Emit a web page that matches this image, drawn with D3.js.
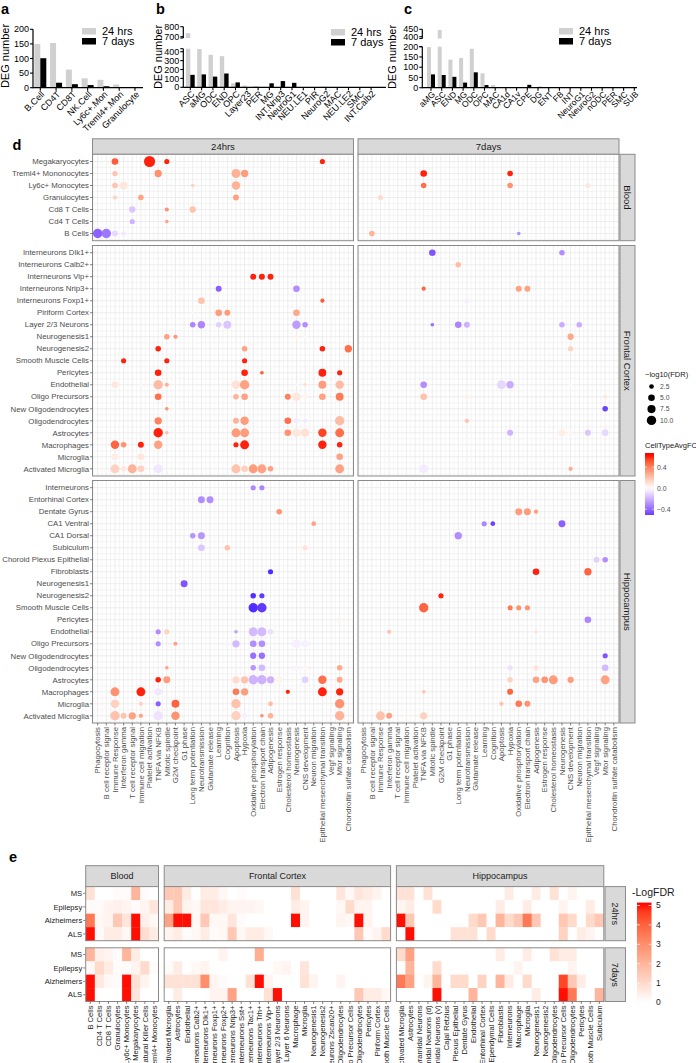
<!DOCTYPE html>
<html><head><meta charset="utf-8">
<script src="https://cdn.jsdelivr.net/npm/d3@7"></script>
<style>body{margin:0;background:#fff} svg{display:block;font-family:"Liberation Sans",Arial,Helvetica,sans-serif}</style>
</head><body><script>
// ---------------- DATA ----------------
// Panel a
const aCats = ["B.Cell","CD4T","CD8T","NK.Cell","Ly6c+.Mon","Treml4+.Mon","Granulocyte"];
const a24 = [150,153,62,32,27,11,3];
const a7d = [101,17,12,9,5,1,0];
const aTicks = [0,50,100,150,200];
// Panel b
const bCats = ["ASC","aMG","ODC","END","OPC","Layer23","PER","MG","INT.Nrip3","NeuroG1","NEU.LE1","PIR","NeuroG2","MAC","NEU.LE2","SMC","INT.Calb2"];
const b24 = [735,430,365,350,45,20,15,0,0,0,0,0,8,0,0,0,5];
const b7d = [140,145,120,155,55,0,0,45,70,50,0,0,0,0,0,0,0];
const bTicksLow = [0,100,200,300,400];
const bTicksUp = [700,800];
// Panel c
const cCats = ["aMG","ASC","END","MG","ODC","OPC","MAC","CA1d","CA1v","CPE","DG","ENT","FB","INT","NeuroG1","NeuroG2","nODC","PER","SMC","SUB"];
const c24 = [198,445,137,145,190,70,13,0,0,0,0,0,0,0,0,0,0,0,2,0];
const c7d = [65,62,53,25,75,13,0,0,0,14,4,0,0,0,0,0,0,0,0,0];
const cTicksLow = [0,50,100,150,200];
const cTicksUp = [400,450];

// Panel d
const pathways = ["Phagocytosis","B cell receptor signal","Immune Response","Interferon gamma","T cell receptor signal","Immune cell migration","Platelet activation","TNFA via NFKB","Mitotic spindle","G2M checkpoint","G1 phase","Long term potentiation","Neurotransmission","Glutamate release","Learning","Cognition","Apoptosis","Hypoxia","Oxidative phosphorylation","Electron transport chain","Adipogenesis","Estrogen response","Cholesterol homeostasis","Neurogenesis","CNS development","Neuron migration","Epithelial mesenchymal transition","Vegf signaling","Mtor signaling","Chondroitin sulfate catabolism"];
const timepoints = ["24hrs","7days"];
const regions = ["Blood","Frontal Cortex","Hippocampus"];
const bloodCells = ["Megakaryocytes","Treml4+ Mononocytes","Ly6c+ Monocytes","Granulocytes","Cd8 T Cells","Cd4 T Cells","B Cells"];
const fcCells = ["Interneurons Dlk1+","Interneurons Calb2+","Interneurons Vip+","Interneurons Nrip3+","Interneurons Foxp1+","Piriform Cortex","Layer 2/3 Neurons","Neurogenesis1","Neurogenesis2","Smooth Muscle Cells","Pericytes","Endothelial","Oligo Precursors","New Oligodendrocytes","Oligodendrocytes","Astrocytes","Macrophages","Microglia","Activated Microglia"];
const hipCells = ["Interneurons","Entorhinal Cortex","Dentate Gyrus","CA1 Ventral","CA1 Dorsal","Subiculum","Choroid Plexus Epithelial","Fibroblasts","Neurogenesis1","Neurogenesis2","Smooth Muscle Cells","Pericytes","Endothelial","Oligo Precursors","New Oligodendrocytes","Oligodendrocytes","Astrocytes","Macrophages","Microglia","Activated Microglia"];
// each entry: [pathway index, -log10(FDR), CellTypeAvgFC]
const dotsBlood24 = {
 "Megakaryocytes":[[2,5,0.5],[6,14,0.6],[8,3,0.6],[26,3,0.6]],
 "Treml4+ Mononocytes":[[2,3,0.2],[7,6,0.35],[16,9,0.25],[17,6,0.32]],
 "Ly6c+ Monocytes":[[2,3.5,0.2],[3,7,0.08],[11,1.5,0.15],[16,8,0.25]],
 "Granulocytes":[[2,2,0.15],[5,3.5,0.3],[16,4,0.3]],
 "Cd8 T Cells":[[4,4.5,-0.15],[8,2,0.35],[11,4.5,0.2]],
 "Cd4 T Cells":[[4,3,-0.2],[8,1.5,0.3]],
 "B Cells":[[0,10,-0.42],[1,10,-0.36],[2,4,-0.1],[3,2.5,-0.06]]
};
const dotsBlood7 = {
 "Treml4+ Mononocytes":[[7,5,0.6],[17,3.5,0.6]],
 "Ly6c+ Monocytes":[[7,3.5,0.45],[17,3.5,0.35],[26,3,0.08]],
 "Granulocytes":[[2,3,0.12]],
 "B Cells":[[1,3.5,0.25],[3,1.5,0.05],[18,1.5,-0.3]]
};
const dotsFC24 = {
 "Interneurons Vip+":[[18,4,0.6],[19,4,0.6],[20,4,0.6]],
 "Interneurons Nrip3+":[[14,4,-0.42],[23,5,-0.3]],
 "Interneurons Foxp1+":[[12,5,0.2],[26,2,0.5]],
 "Piriform Cortex":[[11,1.5,0.04],[14,5,0.32],[15,4,0.32],[23,5,0.28]],
 "Layer 2/3 Neurons":[[11,3.5,-0.32],[12,6,-0.32],[14,3.5,-0.12],[15,7,-0.15],[23,8,-0.26],[24,3.5,-0.3]],
 "Neurogenesis1":[[8,3.5,0.3],[9,2,0.35],[23,1.5,0.05],[24,1.5,0.03]],
 "Neurogenesis2":[[7,3.5,0.6],[17,3.5,0.3],[26,3.5,0.6],[29,6,0.45]],
 "Smooth Muscle Cells":[[3,3,0.6],[8,3,0.6],[17,3,0.6]],
 "Pericytes":[[7,5,0.6],[17,5,0.6],[19,1.5,0.5],[26,7,0.6],[28,3,0.6]],
 "Endothelial":[[2,5,0.08],[5,1.5,-0.03],[7,10,0.22],[8,2,0.25],[16,8,0.1],[17,10,0.3],[23,1.5,-0.03],[24,1.5,0.1],[26,7,0.32],[28,8,0.22]],
 "Oligo Precursors":[[7,5,0.45],[16,3.5,0.25],[17,5,0.3],[22,4,0.4],[23,8,0.08],[24,3,0.04],[26,5,0.3],[28,7,0.42]],
 "New Oligodendrocytes":[[8,1.5,0.35]],
 "Oligodendrocytes":[[7,6,0.4],[16,4,0.25],[17,8,0.32],[22,5,0.45],[23,3.5,-0.05],[24,2,-0.06],[28,10,0.22]],
 "Astrocytes":[[7,10,0.6],[8,1.5,0.2],[16,9,0.32],[17,9,0.32],[22,5,0.35],[23,8,0.08],[24,8,0.1],[26,8,0.55],[28,9,0.45]],
 "Macrophages":[[2,8,0.48],[3,3.5,0.35],[5,4,0.6],[7,8,0.3],[16,3,0.6],[17,9,0.6],[26,8,0.6],[28,3.5,0.6]],
 "Microglia":[[2,5,0.06],[5,5,0.08],[28,5,0.3]],
 "Activated Microglia":[[2,9,0.15],[3,3.5,0.08],[4,9,0.25],[5,5,0.15],[7,9,-0.06],[16,9,0.2],[17,5,0.15],[18,9,0.32],[19,9,0.3],[20,3.5,0.3],[28,9,0.3]]
};
const dotsFC7 = {
 "Interneurons Dlk1+":[[8,5,-0.45],[23,3.5,-0.3]],
 "Interneurons Calb2+":[[11,3.5,0.22]],
 "Interneurons Nrip3+":[[7,2,0.48],[18,4,0.3],[19,4,0.3]],
 "Interneurons Foxp1+":[[12,3,-0.04],[23,1.5,0.02]],
 "Layer 2/3 Neurons":[[8,1.5,-0.38],[11,5,-0.32],[12,4,-0.2],[23,3.5,-0.22],[25,3.5,-0.22]],
 "Neurogenesis1":[[24,4.5,0.28]],
 "Neurogenesis2":[[24,3,0.15]],
 "Endothelial":[[7,5,-0.3],[16,9,-0.1],[17,6,-0.22],[24,1.5,0.02]],
 "Oligo Precursors":[[7,5,0.2],[12,2.5,0.05],[28,1.5,0.1]],
 "New Oligodendrocytes":[[28,3.5,-0.5]],
 "Oligodendrocytes":[[12,2,0.2]],
 "Astrocytes":[[17,4,-0.2],[23,5,0.06],[24,3,0.03],[26,4,-0.15],[28,5,-0.1]],
 "Activated Microglia":[[7,9,-0.05],[24,2,0.28]]
};
const dotsHip24 = {
 "Interneurons":[[18,3,-0.32],[19,3,-0.32]],
 "Entorhinal Cortex":[[12,5.5,-0.3],[13,5.5,-0.3]],
 "Dentate Gyrus":[[21,3.5,0.35]],
 "CA1 Ventral":[[25,2.5,0.3]],
 "CA1 Dorsal":[[11,3.5,-0.28],[12,5.5,-0.28]],
 "Subiculum":[[12,5,-0.15],[15,3.5,0.2],[24,3,0.1]],
 "Fibroblasts":[[20,3,-0.55]],
 "Neurogenesis1":[[10,5.5,-0.45]],
 "Neurogenesis2":[[18,3.5,-0.55],[19,3,-0.52]],
 "Smooth Muscle Cells":[[18,10,-0.55],[19,10,-0.52]],
 "Pericytes":[[28,2,0.04]],
 "Endothelial":[[7,3,-0.3],[8,3,0.15],[16,1.5,-0.25],[18,9,-0.18],[19,9,-0.18],[20,3.5,-0.08]],
 "Oligo Precursors":[[7,3,-0.3],[9,2,0.3],[15,2.5,-0.03],[16,6,-0.18],[18,5,-0.3],[19,5,-0.3],[23,8,-0.04],[24,5,-0.04]],
 "New Oligodendrocytes":[[18,4.5,-0.38],[19,4.5,-0.38]],
 "Oligodendrocytes":[[8,1.5,0.3],[18,3.5,-0.28],[19,5,-0.18],[23,3,-0.03],[24,2,0.03],[28,3.5,0.28]],
 "Astrocytes":[[7,3.5,0.6],[8,5.5,0.32],[16,6,0.12],[17,6,0.2],[18,10,-0.2],[19,10,-0.2],[20,6,-0.2],[21,5,0.04],[24,5,-0.12],[26,8,0.45],[28,4,0.28]],
 "Macrophages":[[2,9,0.35],[5,9,0.6],[7,6,-0.06],[16,5,0.42],[17,6,0.32],[22,2,0.6],[26,9,0.6],[28,6,0.6]],
 "Microglia":[[2,8,0.15],[5,2,0.15],[7,3,-0.42],[9,7,0.48],[16,10,0.2],[20,2.5,0.22],[28,10,0.35]],
 "Activated Microglia":[[2,10,0.2],[3,4,0.2],[4,6,0.3],[5,2,0.3],[7,10,-0.07],[9,8,0.35],[16,10,0.15],[17,3.5,-0.04],[19,1.5,0.35],[20,3.5,0.25],[28,10,0.25]]
};
const dotsHip7 = {
 "Dentate Gyrus":[[18,5.5,0.32],[19,5.5,0.32],[20,2,0.32]],
 "CA1 Ventral":[[14,3,-0.32],[15,2.5,-0.5],[23,5.5,-0.42]],
 "CA1 Dorsal":[[11,6,-0.3]],
 "Choroid Plexus Epithelial":[[27,4,-0.12],[28,3.5,-0.3]],
 "Fibroblasts":[[20,5,0.6],[26,6,0.48]],
 "Neurogenesis2":[[9,3,0.6]],
 "Smooth Muscle Cells":[[7,10,0.48],[17,3,0.42],[18,3,0.35],[19,3,0.35]],
 "Pericytes":[[26,5,-0.32]],
 "Endothelial":[[3,2,0.2],[20,1.5,0.1]],
 "New Oligodendrocytes":[[28,3,-0.45]],
 "Oligodendrocytes":[[17,3,-0.08],[20,3,0.1],[28,5,-0.18]],
 "Astrocytes":[[17,3.5,0.15],[20,5,0.3],[21,5,0.35],[22,9,0.32],[24,4.5,0.32],[28,9,0.3]],
 "Macrophages":[[7,1.5,0.2],[17,4,0.48]],
 "Microglia":[[16,2,0.2],[18,5,0.42],[19,4,0.35]],
 "Activated Microglia":[[2,9,0.2],[3,4,0.3],[5,1.5,0.05],[7,6,0.15]]
};
const sizeBreaks = [2.5,5.0,7.5,10.0];
const fcBreaks = [0.4,0.0,-0.4];

// Panel e
const diseases = ["MS","Epilepsy","Alzheimers","ALS"];
const eBloodCells = ["B Cells","CD4 T Cells","CD8 T Cells","Granulocytes","Ly6c+ Monocytes","Megakaryocytes","Natural Killer Cells","Treml4+ Monocytes"];
const eFCCells = ["Activated Microglia","Astrocytes","Endothelial","Interneurons Calb2+","Interneurons Dlk1+","Interneurons Foxp1+","Interneurons Foxp2+","Interneurons Nrip3+","Interneurons Sst+","Interneurons Tac1+","Interneurons Trh+","Interneurons Vip+","Layer 2/3 Neurons","Layer 6 Neurons","Macrophage","Microglia","Neurogenesis1","Neurogenesis2","Neurons Zscan20+","New Oligodendrocytes","Oligo Precursor Cells","Oligodendrocytes","Pericytes","Piriform Cortex","Smooth Muscle Cells"];
const eHipCells = ["Activated Microglia","Astrocytes","CA 2/3 Pyramidal Neurons","CA1 Pyramidal Neurons (d)","CA1 Pyramidal Neurons (v)","Cajal Retzius","Choroid Plexus Epithelial","Dentate Gyrus","Endothelial","Entorhinal Cortex","Ependymal Cells","Fibroblasts","Interneurons","Macrophage","Microglia","Neurogenesis1","Neurogenesis2","New Oligodendrocytes","Oligo Precursor Cells","Oligodendrocytes","Pericytes","Smooth Muscle Cells","Subiculum"];
// rows: MS, Epilepsy, Alzheimers, ALS ; values -LogFDR
const eBlood24 = [[0.8,0,0,0.1,0.1,2,0.1,0],[0.1,0.1,0.3,0.4,0.3,0.1,0.3,0.7],[3.5,0.2,0.3,1.5,0.7,5.1,0.4,0.2],[5.1,0.1,0.5,0.5,0.2,5.1,0.9,0.5]];
const eBlood7 = [[2,0.4,0.3,0.1,2,0.5,0,0],[0.2,1,0.5,0.1,0.1,0.3,1,0.1],[5.1,0.6,0.2,0.1,5.1,0.8,0.3,0],[5.1,0,0,0,5.1,0.7,0,0]];
const eFC24 = [
 [1.5,1.5,0.5,0,0.5,0.5,0.2,0,0.1,0,0,0,0,0,0.8,0,0,0,0,0.7,0.2,0.7,0.5,0.3,0],
 [0.5,1.5,0.3,0.2,0.7,0.7,0.5,0.3,0.3,0.3,0.2,0,0,0,0.5,0.3,0,0,0,0.2,1,0.3,0.3,0,0],
 [2.5,5.1,5.1,0.2,1.5,0.2,0.2,0.7,0.1,0,0,0,0,0,5.1,0.3,0,0,0,0.3,0.2,5.1,0.3,0,0],
 [0.3,0.5,0.1,0.2,0.5,0.1,0.2,1.5,0.2,0.5,0.5,0.2,0,0,0,0,0,0,0,0,0,1.5,0.1,0.3,1]];
const eFC7 = [
 [0,0,0,0,0,0,0.3,0,0,0,2.2,0,0,0,0,0,0,0,0,0,0,0,0,0,0],
 [0.1,0.5,0,0.2,0.3,0,0,0,0,0,0,0,0.2,0.3,0,0.7,0,0,0,0,0,0,0,0,0],
 [0.8,0.8,0.8,0.8,3,0.3,0.1,0,0,0.8,5.1,0.3,0,0,0,0.8,0.3,0,0,0.3,0,0,0,0,0],
 [0,0.5,0,0,0,0.3,0.3,2.5,0,0,0,0.8,5.1,0,0,0,0,0,0,0,0,1.5,0.5,0.5,0.2]];
const eHip24 = [
 [0.8,0.8,0,0.8,0,0,0,0,0,0,0,0,0.5,0,0,0.5,0,0.8,0,0.3,0,0,0],
 [0.3,0.5,0,0,1,0,0,0,0,0,0,0.5,0,0,0.5,0,0,0,0.3,0,0,0.5,0],
 [5.1,1.5,0,0,0,0,0,0,1,1.5,0,2,1,1.5,3.5,1.5,0,0,1.5,1,0,1,1.5],
 [0,5.1,0,0,0,0,0.8,0.8,0.8,0,1,0,0,0,0,0,0,0,1.2,0,0.5,0.3,0]];
const eHip7 = [
 [1,2.5,0,0,0,0,0,0,0,0,0,0.5,0,0,0.5,0,0,0.8,0.5,0.5,0,0,0],
 [0,2,0,0,1,0,0,0,0,0,0,0,0,0.3,0,0,0,0,0,0.3,0,0,0],
 [3.5,2.5,0,0.3,2,0,1,1,0,1.2,0,2,0.5,0,1,0,0,0,4.5,1.5,0.5,0,0],
 [0,0,0,0,5.1,0,0,0,2,0,0,0,0,0,0,0.5,0,0,5.1,3.5,0,0,2]];
const eBreaks = [0,1,2,3,4,5];

// ---------------- DRAW ----------------
const svg = d3.select("body").append("svg").attr("width",696).attr("height",1063);
const TXT = "#4d4d4d";

function plabel(t,x,y){svg.append("text").attr("x",x).attr("y",y).attr("font-size",14.5).attr("font-weight","bold").text(t);}
plabel("a",1,14); plabel("b",156,13.5); plabel("c",404,13.5); plabel("d",12.5,150); plabel("e",9,862);

function barChart(cfg){
  const g = svg.append("g");
  const yL = d3.scaleLinear().domain(cfg.lowDom).range(cfg.lowRange);
  const yU = cfg.upDom ? d3.scaleLinear().domain(cfg.upDom).range(cfg.upRange) : null;
  const lowTopVal = yL.invert(cfg.lowTop);
  const cx = d3.scaleLinear().domain([0,1]).range([cfg.c0, cfg.c0+cfg.pitch]);
  const drawBar = (v,x)=>{
    if (v<=0) return;
    if (!yU || v<=lowTopVal){
      g.append("rect").attr("x",x).attr("width",cfg.bw).attr("y",yL(v)).attr("height",yL(0)-yL(v)).attr("fill",cfg.col);
    } else {
      g.append("rect").attr("x",x).attr("width",cfg.bw).attr("y",cfg.lowTop).attr("height",yL(0)-cfg.lowTop).attr("fill",cfg.col);
      g.append("rect").attr("x",x).attr("width",cfg.bw).attr("y",yU(v)).attr("height",cfg.upBottom-yU(v)).attr("fill",cfg.col);
    }
  };
  cfg.cats.forEach((c,i)=>{
    cfg.col="#d0d0d0"; drawBar(cfg.v24[i], cx(i)-cfg.bw);
    cfg.col="#000"; drawBar(cfg.v7[i], cx(i));
  });
  const ax = cfg.axisX, y0 = yL(0);
  g.append("line").attr("x1",ax).attr("x2",ax).attr("y1",y0+0.5).attr("y2",cfg.lowTop).attr("stroke","#000").attr("stroke-width",1.2);
  cfg.lowTicks.forEach(t=>{
    g.append("line").attr("x1",ax-3).attr("x2",ax).attr("y1",yL(t)).attr("y2",yL(t)).attr("stroke","#000").attr("stroke-width",1.1);
    g.append("text").attr("x",ax-4).attr("y",yL(t)).attr("dy","0.35em").attr("text-anchor","end").attr("font-size",9).text(t);
  });
  if (yU){
    g.append("line").attr("x1",ax-3).attr("x2",ax).attr("y1",cfg.lowTop).attr("y2",cfg.lowTop).attr("stroke","#000").attr("stroke-width",1.1);
    g.append("line").attr("x1",ax).attr("x2",ax).attr("y1",cfg.upBottom).attr("y2",yU(cfg.upTicks[cfg.upTicks.length-1])).attr("stroke","#000").attr("stroke-width",1.2);
    g.append("line").attr("x1",ax-3).attr("x2",ax).attr("y1",cfg.upBottom).attr("y2",cfg.upBottom).attr("stroke","#000").attr("stroke-width",1.1);
    cfg.upTicks.forEach(t=>{
      g.append("line").attr("x1",ax-3).attr("x2",ax).attr("y1",yU(t)).attr("y2",yU(t)).attr("stroke","#000").attr("stroke-width",1.1);
      g.append("text").attr("x",ax-4).attr("y",yU(t)).attr("dy","0.35em").attr("text-anchor","end").attr("font-size",9).text(t);
    });
  }
  g.append("line").attr("x1",ax).attr("x2",cfg.xEnd).attr("y1",y0).attr("y2",y0).attr("stroke","#000").attr("stroke-width",1.2);
  cfg.cats.forEach((c,i)=>{
    const x = cx(i);
    g.append("line").attr("x1",x).attr("x2",x).attr("y1",y0).attr("y2",y0+3).attr("stroke","#000").attr("stroke-width",1.1);
    g.append("text").attr("transform",`translate(${x+2.5},${y0+5}) rotate(-45)`).attr("text-anchor","end").attr("dy","0.35em").attr("font-size",cfg.xfs).text(c);
  });
  g.append("text").attr("transform",`translate(${cfg.ylabX},${cfg.ylabY}) rotate(-90)`).attr("text-anchor","middle").attr("font-size",11).text("DEG number");
  const L = cfg.leg;
  g.append("rect").attr("x",L[0]).attr("y",L[1]).attr("width",14).attr("height",6.5).attr("fill","#d0d0d0");
  g.append("text").attr("x",L[0]+20).attr("y",L[1]+3.3).attr("dy","0.35em").attr("font-size",11).text("24 hrs");
  g.append("rect").attr("x",L[0]).attr("y",L[1]+10).attr("width",14).attr("height",6.5).attr("fill","#000");
  g.append("text").attr("x",L[0]+20).attr("y",L[1]+13.3).attr("dy","0.35em").attr("font-size",11).text("7 days");
}
barChart({cats:aCats,v24:a24,v7:a7d,axisX:33,c0:40.3,pitch:15.78,bw:6,lowDom:[0,200],lowRange:[87.7,29.3],lowTop:29.3,lowTicks:aTicks,xEnd:143,xfs:9,ylabX:8.5,ylabY:56,leg:[82,28]});
barChart({cats:bCats,v24:b24,v7:b7d,axisX:183.3,c0:190.3,pitch:11.3,bw:4.4,lowDom:[0,400],lowRange:[87.3,51.7],lowTop:48.7,lowTicks:bTicksLow,upDom:[700,800],upRange:[36.7,26.7],upBottom:38,upTicks:bTicksUp,xEnd:386,xfs:9,ylabX:162,ylabY:57,leg:[331,29]});
barChart({cats:cCats,v24:c24,v7:c7d,axisX:422.3,c0:431,pitch:10.7,bw:4,lowDom:[0,200],lowRange:[87.7,46.7],lowTop:46.7,lowTicks:cTicksLow,upDom:[400,450],upRange:[36.7,29.3],upBottom:38.5,upTicks:cTicksUp,xEnd:637,xfs:8.5,ylabX:396,ylabY:57,leg:[559,28]});

// ---- Panel d ----
const dX = {"24hrs":[92.5,353.5],"7days":[358,619]};
const dY = {"Blood":[154.3,240.7],"Frontal Cortex":[245.5,476],"Hippocampus":[480.5,723]};
const dCells = {"Blood":bloodCells,"Frontal Cortex":fcCells,"Hippocampus":hipCells};
const dDots = {"Blood":{"24hrs":dotsBlood24,"7days":dotsBlood7},"Frontal Cortex":{"24hrs":dotsFC24,"7days":dotsFC7},"Hippocampus":{"24hrs":dotsHip24,"7days":dotsHip7}};
const rScale = d3.scaleSqrt().domain([0,10]).range([0,4.7]);
const fcColor = d3.scaleLinear().domain([-0.62,0,0.62]).range(["#0000ff","#ffffff","#ff0000"]).interpolate(d3.interpolateLab).clamp(true);
const BORDER = "#8a8a8a", STRIP="#d9d9d9", GRID="#ebebeb";
const gd = svg.append("g");
timepoints.forEach(tp=>{
  const xs = d3.scalePoint().domain(pathways).range(dX[tp]).padding(0.6);
  const step = xs.step();
  gd.append("rect").attr("x",dX[tp][0]).attr("y",138.8).attr("width",dX[tp][1]-dX[tp][0]).attr("height",15.5).attr("fill",STRIP).attr("stroke",BORDER).attr("stroke-width",1);
  gd.append("text").attr("x",(dX[tp][0]+dX[tp][1])/2).attr("y",146.6).attr("dy","0.35em").attr("text-anchor","middle").attr("font-size",9.5).attr("fill","#1a1a1a").text(tp);
  regions.forEach(rg=>{
    const ys = d3.scalePoint().domain(dCells[rg]).range(dY[rg]).padding(0.6);
    const [x0,x1]=dX[tp],[y0,y1]=dY[rg];
    const pg = gd.append("g");
    pg.append("rect").attr("x",x0).attr("y",y0).attr("width",x1-x0).attr("height",y1-y0).attr("fill","#fff");
    pathways.forEach(p=>{
      [xs(p), xs(p)+step/2].forEach((x,k)=>{ if(x<x1) pg.append("line").attr("x1",x).attr("x2",x).attr("y1",y0).attr("y2",y1).attr("stroke",GRID).attr("stroke-width",k?0.5:0.9);});
    });
    pg.append("line").attr("x1",xs(pathways[0])-step/2).attr("x2",xs(pathways[0])-step/2).attr("y1",y0).attr("y2",y1).attr("stroke",GRID).attr("stroke-width",0.5);
    dCells[rg].forEach(c=>{
      [ys(c), ys(c)+ys.step()/2].forEach((y,k)=>{ if(y<y1) pg.append("line").attr("x1",x0).attr("x2",x1).attr("y1",y).attr("y2",y).attr("stroke",GRID).attr("stroke-width",k?0.5:0.9);});
    });
    const dd = dDots[rg][tp];
    Object.keys(dd).forEach(c=>{
      dd[c].forEach(([pi,s,fc])=>{
        pg.append("circle").attr("cx",xs(pathways[pi])).attr("cy",ys(c)).attr("r",rScale(s)).attr("fill",fcColor(fc));
      });
    });
    pg.append("rect").attr("x",x0).attr("y",y0).attr("width",x1-x0).attr("height",y1-y0).attr("fill","none").attr("stroke",BORDER).attr("stroke-width",1);
    if (tp==="24hrs"){
      dCells[rg].forEach(c=>{
        gd.append("line").attr("x1",x0-2.5).attr("x2",x0).attr("y1",ys(c)).attr("y2",ys(c)).attr("stroke","#333").attr("stroke-width",0.6);
        gd.append("text").attr("x",x0-3.5).attr("y",ys(c)).attr("dy","0.35em").attr("text-anchor","end").attr("font-size",7.8).attr("fill",TXT).text(c);
      });
    } else {
      gd.append("rect").attr("x",620).attr("y",y0).attr("width",15).attr("height",y1-y0).attr("fill",STRIP).attr("stroke",BORDER).attr("stroke-width",1);
      gd.append("text").attr("transform",`translate(${627.5},${(y0+y1)/2}) rotate(90)`).attr("text-anchor","middle").attr("dy","0.35em").attr("font-size",9.5).attr("fill","#1a1a1a").text(rg);
    }
  });
  pathways.forEach(p=>{
    const x = xs(p);
    gd.append("line").attr("x1",x).attr("x2",x).attr("y1",723).attr("y2",725.5).attr("stroke","#333").attr("stroke-width",0.6);
    gd.append("text").attr("transform",`translate(${x},${727}) rotate(-90)`).attr("text-anchor","end").attr("dy","0.35em").attr("font-size",7.8).attr("fill",TXT).text(p);
  });
});
gd.append("text").attr("x",645).attr("y",377).attr("font-size",7.5).attr("fill","#1a1a1a").text("\u2212log10(FDR)");
sizeBreaks.forEach((s,i)=>{
  const y = 386.5 + i*11.3;
  gd.append("circle").attr("cx",651.5).attr("cy",y).attr("r",rScale(s)).attr("fill","#000");
  gd.append("text").attr("x",660).attr("y",y).attr("dy","0.35em").attr("font-size",6.8).attr("fill",TXT).text(s.toFixed(1));
});
gd.append("text").attr("x",645).attr("y",448).attr("font-size",7.5).attr("fill","#1a1a1a").text("CellTypeAvgFC");
const fcLo=-0.51, fcHi=0.67, barTop=453, barBot=515;
const fcY = d3.scaleLinear().domain([fcLo,fcHi]).range([barBot,barTop]);
const defs = svg.append("defs");
const lg1 = defs.append("linearGradient").attr("id","gfc").attr("x1",0).attr("y1",1).attr("x2",0).attr("y2",0);
d3.range(0,1.0001,0.05).forEach(t=>lg1.append("stop").attr("offset",t).attr("stop-color",fcColor(fcLo+t*(fcHi-fcLo))));
gd.append("rect").attr("x",645).attr("y",barTop).attr("width",9).attr("height",barBot-barTop).attr("fill","url(#gfc)");
fcBreaks.forEach(b=>{
  gd.append("line").attr("x1",645).attr("x2",647).attr("y1",fcY(b)).attr("y2",fcY(b)).attr("stroke","#fff").attr("stroke-width",0.6);
  gd.append("line").attr("x1",652).attr("x2",654).attr("y1",fcY(b)).attr("y2",fcY(b)).attr("stroke","#fff").attr("stroke-width",0.6);
  gd.append("text").attr("x",657).attr("y",fcY(b)).attr("dy","0.35em").attr("font-size",6.8).attr("fill",TXT).text(b.toFixed(1).replace("-","\u2212"));
});

// ---- Panel e ----
const eXr = [{cells:eBloodCells,x:[85.7,158.5],d24:eBlood24,d7:eBlood7,name:"Blood"},
             {cells:eFCCells,x:[164.2,390.6],d24:eFC24,d7:eFC7,name:"Frontal Cortex"},
             {cells:eHipCells,x:[396.4,603.8],d24:eHip24,d7:eHip7,name:"Hippocampus"}];
const eY = {"24hrs":[886.6,940.7],"7days":[947.8,1001.5]};
const heat = d3.scaleLinear().domain([0,5.15]).range(["#ffffff","#ff0000"]).interpolate(d3.interpolateLab).clamp(true);
const ge = svg.append("g");
eXr.forEach((col,ci)=>{
  const xs = d3.scaleBand().domain(col.cells).range(col.x);
  ge.append("rect").attr("x",col.x[0]).attr("y",865.7).attr("width",col.x[1]-col.x[0]).attr("height",20.9).attr("fill",STRIP).attr("stroke",BORDER);
  ge.append("text").attr("x",(col.x[0]+col.x[1])/2).attr("y",876.2).attr("dy","0.35em").attr("text-anchor","middle").attr("font-size",9).attr("fill","#1a1a1a").text(col.name);
  timepoints.forEach(tp=>{
    const ys = d3.scaleBand().domain(diseases).range(eY[tp]);
    const data = tp==="24hrs"?col.d24:col.d7;
    ge.append("rect").attr("x",col.x[0]).attr("y",eY[tp][0]).attr("width",col.x[1]-col.x[0]).attr("height",eY[tp][1]-eY[tp][0]).attr("fill","#fff");
    diseases.forEach((d,ri)=>{
      col.cells.forEach((c,k)=>{
        ge.append("rect").attr("x",xs(c)).attr("y",ys(d)).attr("width",xs.bandwidth()+0.3).attr("height",ys.bandwidth()+0.3).attr("fill",heat(data[ri][k]));
      });
      if (ci===0){
        ge.append("line").attr("x1",col.x[0]-2.5).attr("x2",col.x[0]).attr("y1",ys(d)+ys.bandwidth()/2).attr("y2",ys(d)+ys.bandwidth()/2).attr("stroke","#333").attr("stroke-width",0.6);
        ge.append("text").attr("x",col.x[0]-3.5).attr("y",ys(d)+ys.bandwidth()/2).attr("dy","0.35em").attr("text-anchor","end").attr("font-size",7.6).attr("fill","#1a1a1a").text(d);
      }
    });
    ge.append("rect").attr("x",col.x[0]).attr("y",eY[tp][0]).attr("width",col.x[1]-col.x[0]).attr("height",eY[tp][1]-eY[tp][0]).attr("fill","none").attr("stroke",BORDER);
    if (ci===2){
      ge.append("rect").attr("x",605).attr("y",eY[tp][0]).attr("width",20.5).attr("height",eY[tp][1]-eY[tp][0]).attr("fill",STRIP).attr("stroke",BORDER);
      ge.append("text").attr("transform",`translate(615.2,${(eY[tp][0]+eY[tp][1])/2}) rotate(90)`).attr("text-anchor","middle").attr("dy","0.35em").attr("font-size",9).attr("fill","#1a1a1a").text(tp);
    }
  });
  col.cells.forEach(c=>{
    const x = xs(c)+xs.bandwidth()/2;
    ge.append("line").attr("x1",x).attr("x2",x).attr("y1",1001.5).attr("y2",1004).attr("stroke","#333").attr("stroke-width",0.6);
    ge.append("text").attr("transform",`translate(${x},1005.5) rotate(-90)`).attr("text-anchor","end").attr("dy","0.35em").attr("font-size",7.6).attr("fill","#1a1a1a").text(c);
  });
});
ge.append("text").attr("x",632).attr("y",896).attr("font-size",10.5).attr("fill","#1a1a1a").text("-LogFDR");
const eYs = d3.scaleLinear().domain([0,5]).range([1002.5,905.5]);
const lg2 = defs.append("linearGradient").attr("id","ge").attr("x1",0).attr("y1",1).attr("x2",0).attr("y2",0);
d3.range(0,1.0001,0.1).forEach(t=>lg2.append("stop").attr("offset",t).attr("stop-color",heat(t*5.15)));
ge.append("rect").attr("x",637).attr("y",eYs(5.15)).attr("width",14.5).attr("height",eYs(0)-eYs(5.15)).attr("fill","url(#ge)");
eBreaks.forEach(b=>{
  ge.append("line").attr("x1",637).attr("x2",640).attr("y1",eYs(b)).attr("y2",eYs(b)).attr("stroke","#fff").attr("stroke-width",0.7);
  ge.append("line").attr("x1",648.5).attr("x2",651.5).attr("y1",eYs(b)).attr("y2",eYs(b)).attr("stroke","#fff").attr("stroke-width",0.7);
  ge.append("text").attr("x",656).attr("y",eYs(b)).attr("dy","0.35em").attr("font-size",8.5).attr("fill","#1a1a1a").text(b);
});
</script></body></html>
